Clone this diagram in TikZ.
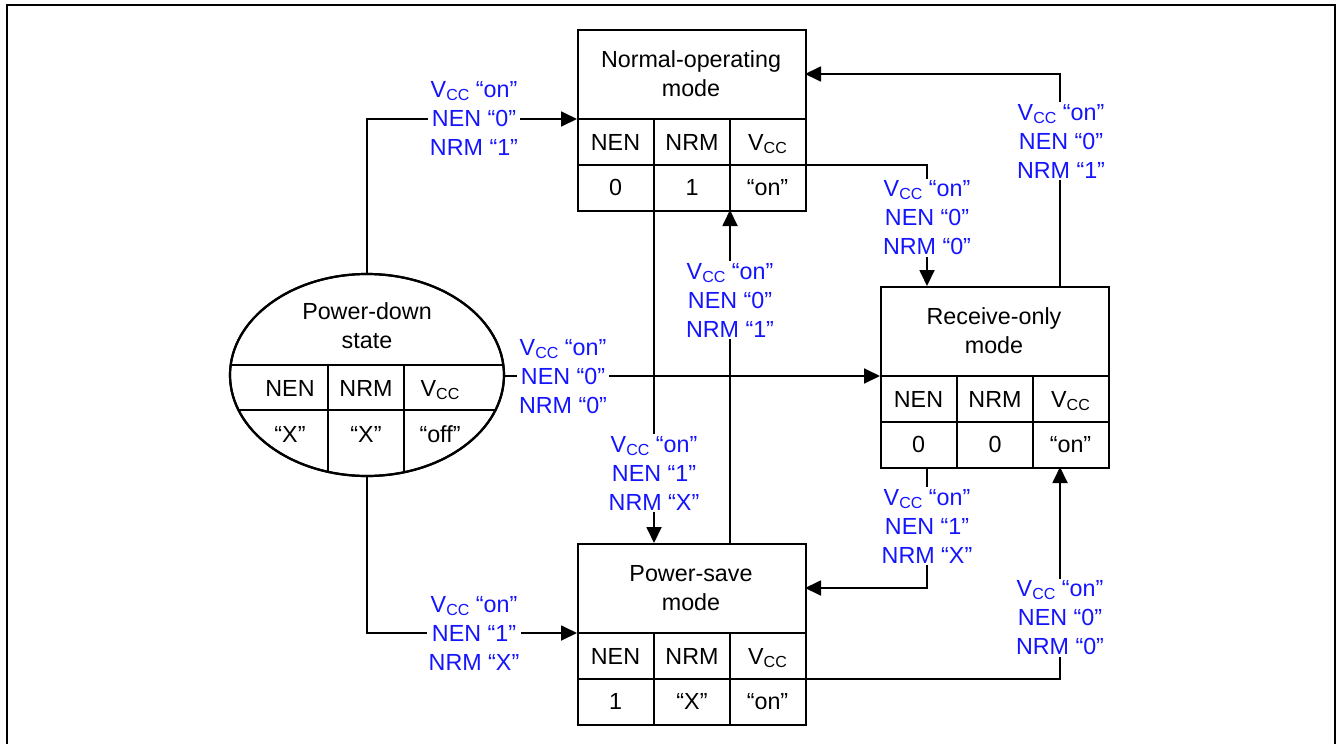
\documentclass[tikz,border=0pt]{standalone}
\usepackage{fontspec}
\setmainfont{Liberation Sans}
\usetikzlibrary{arrows.meta,shapes.geometric}
\definecolor{lblue}{RGB}{20,20,255}
\newcommand\vcc{V\raisebox{-3pt}{\fontsize{16}{16}\selectfont CC}}
\newcommand\modebox[7]{%
  \node[boxline, draw, fill=white, anchor=north west, minimum width=228pt, minimum height=181pt, inner sep=0pt] (#1) at (#2,#3) {};
  \draw[boxline] (#2,{#3+90}) -- ({#2+228},{#3+90});
  \draw[boxline] (#2,{#3+136}) -- ({#2+228},{#3+136});
  \draw[boxline] ({#2+77},{#3+90}) -- ({#2+77},{#3+181});
  \draw[boxline] ({#2+153},{#3+90}) -- ({#2+153},{#3+181});
  \node[txt] (#1-t) at ({#2+114},{#3+45}) {#4};
  \node[cell] (#1-h1) at ({#2+38.5},{#3+113}) {NEN};
  \node[cell] (#1-h2) at ({#2+115},{#3+113}) {NRM};
  \node[cell] (#1-h3) at ({#2+190.5},{#3+113}) {\vcc};
  \node[cell] (#1-v1) at ({#2+38.5},{#3+158.5}) {#5};
  \node[cell] (#1-v2) at ({#2+115},{#3+158.5}) {#6};
  \node[cell] (#1-v3) at ({#2+190.5},{#3+158.5}) {#7};
  \coordinate (#1-tl) at (#2,{#3+90});
  \coordinate (#1-te) at ({#2+228},{#3+45});
  \coordinate (#1-hr) at ({#2+228},{#3+136});
  \coordinate (#1-c1t) at ({#2+77},#3);
  \coordinate (#1-c1b) at ({#2+77},{#3+181});
  \coordinate (#1-c2t) at ({#2+153},#3);
  \coordinate (#1-c2b) at ({#2+153},{#3+181});
}
\begin{document}
\begin{tikzpicture}[x=1pt,y=-1pt,
  font=\fontsize{23.3}{29}\selectfont,
  boxline/.style={line width=2.2pt},
  conn/.style={line width=1.8pt, -{Triangle[length=16pt,width=15pt]}},
  lbl/.style={fill=white, text=lblue, align=center, inner sep=2pt},
  txt/.style={align=center, inner sep=0pt},
  cell/.style={inner sep=0pt, text height=16.5pt, text depth=0pt}]

\useasboundingbox (0,0) rectangle (1338,744);

% Power-down ellipse
\node[boxline, draw, fill=white, ellipse, minimum width=274pt, minimum height=202pt, inner sep=0pt] (pd) at (367,375) {};
\begin{scope}
  \clip (367,375) ellipse [x radius=137pt, y radius=101pt];
  \draw[boxline] (220,365) -- (520,365);
  \draw[boxline] (220,410) -- (520,410);
  \draw[boxline] (328,365) -- (328,490);
  \draw[boxline] (404,365) -- (404,490);
\end{scope}
\draw[boxline] (367,375) ellipse [x radius=137pt, y radius=101pt];
\node[txt] (pd-t) at (367,326) {Power-down\\state};
\node[cell] (pd-h1) at (290,388) {NEN};
\node[cell] (pd-h2) at (366,388) {NRM};
\node[cell] (pd-h3) at (440,388) {\vcc};
\node[cell] (pd-v1) at (290,434) {“X”};
\node[cell] (pd-v2) at (366,434) {“X”};
\node[cell] (pd-v3) at (440,434) {“off”};

% Mode boxes
\modebox{no}{577}{29}{Normal-operating\\mode}{0}{1}{“on”}
\modebox{ro}{880}{286}{Receive-only\\mode}{0}{0}{“on”}
\modebox{ps}{577}{543}{Power-save\\mode}{1}{“X”}{“on”}

\coordinate (ro-a) at (927,286);
\coordinate (ro-b) at (1060,286);
\coordinate (ro-c) at (927,467);
\coordinate (ro-d) at (1060,467);

% Connectors
\draw[conn] (pd.north) |- (no-tl);
\draw[conn] (pd.east |- ro-tl) -- (ro-tl);
\draw[conn] (pd.south) |- (ps-tl);
\draw[conn] (no-hr) -| (ro-a);
\draw[conn] (ro-b) |- (no-te);
\draw[conn] (no-c1b) -- (ps-c1t);
\draw[conn] (ps-c2t) -- (no-c2b);
\draw[conn] (ro-c) |- (ps-te);
\draw[conn] (ps-hr) -| (ro-d);

% Labels
\node[lbl] (l1) at (474,118) {\vcc{} “on”\\NEN “0”\\NRM “1”};
\node[lbl] (l2) at (563,377) {\vcc{} “on”\\NEN “0”\\NRM “0”};
\node[lbl] (l3) at (474,633) {\vcc{} “on”\\NEN “1”\\NRM “X”};
\node[lbl] (l4) at (927,218) {\vcc{} “on”\\NEN “0”\\NRM “0”};
\node[lbl] (l5) at (1061,141) {\vcc{} “on”\\NEN “0”\\NRM “1”};
\node[lbl] (l6) at (654,473) {\vcc{} “on”\\NEN “1”\\NRM “X”};
\node[lbl] (l7) at (730,300) {\vcc{} “on”\\NEN “0”\\NRM “1”};
\node[lbl] (l8) at (927,526) {\vcc{} “on”\\NEN “1”\\NRM “X”};
\node[lbl] (l9) at (1060,618) {\vcc{} “on”\\NEN “0”\\NRM “0”};

% Frame
\draw[line width=1.6pt] (7,744) -- (7,5) -- (1335,5) -- (1335,744);
\end{tikzpicture}
\end{document}
